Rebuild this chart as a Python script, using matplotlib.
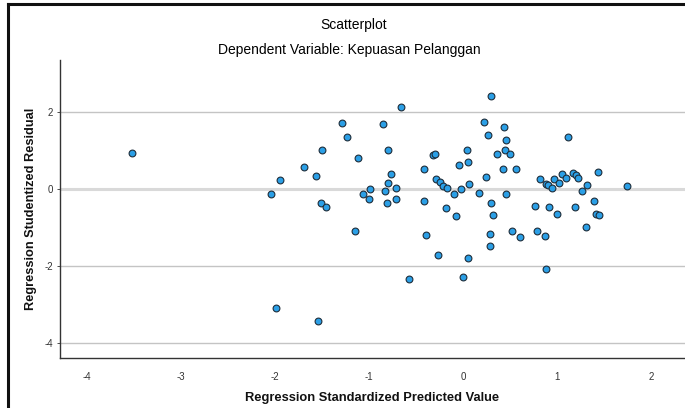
import matplotlib.pyplot as plt
from matplotlib.lines import Line2D

# DATA

predicted = [
    -3.52, -2.05, -1.95, -1.99, -1.69, -1.57, -1.50, -1.51, -1.46, -1.55,
    -1.29, -1.24, -1.12, -1.15, -1.07, -0.99, -1.00, -0.85, -0.80, -0.77,
    -0.80, -0.83, -0.72, -0.81, -0.72, -0.66, -0.58, -0.42, -0.42, -0.40,
    -0.27, -0.32, -0.30, -0.29, -0.25, -0.21, -0.17, -0.10, -0.18, -0.08,
    -0.04, -0.02, 0.04, 0.05, 0.06, 0.05, 0.00, 0.17, 0.22, 0.26,
    0.30, 0.24, 0.30, 0.32, 0.29, 0.29, 0.36, 0.43, 0.46, 0.45,
    0.50, 0.42, 0.56, 0.46, 0.52, 0.60, 0.76, 0.78, 0.87, 0.88,
    0.82, 0.88, 0.90, 0.95, 0.91, 0.97, 1.02, 1.00, 1.05, 1.09,
    1.12, 1.17, 1.20, 1.22, 1.19, 1.26, 1.32, 1.31, 1.39, 1.41,
    1.44, 1.43, 1.74
]

residual = [
    0.94, -0.12, 0.24, -3.10, 0.57, 0.33, 1.01, -0.37, -0.47, -3.43,
    1.72, 1.35, 0.81, -1.08, -0.13, 0.00, -0.27, 1.68, 1.00, 0.38,
    0.16, -0.04, 0.02, -0.37, -0.26, 2.13, -2.35, 0.52, -0.32, -1.19,
    -1.72, 0.88, 0.90, 0.27, 0.17, 0.09, 0.03, -0.12, -0.50, -0.71,
    0.61, 0.01, 1.00, 0.70, 0.13, -1.80, -2.28, -0.11, 1.73, 1.39,
    2.42, 0.32, -0.36, -0.68, -1.18, -1.49, 0.92, 1.60, 1.26, 1.00,
    0.90, 0.51, 0.51, -0.13, -1.09, -1.25, -0.43, -1.09, -1.21, -2.09,
    0.27, 0.14, 0.10, 0.02, -0.46, 0.26, 0.15, -0.65, 0.38, 0.29,
    1.34, 0.41, 0.35, 0.29, -0.48, -0.06, 0.11, -0.99, -0.31, -0.64,
    -0.68, 0.44, 0.09
]

x_ticks = [-4, -3, -2, -1, 0, 1, 2]
y_ticks = [-4, -2, 0, 2]

# FONT

plt.rcParams["font.family"] = ["Liberation Sans", "DejaVu Sans"]
plt.rcParams["axes.unicode_minus"] = False

# FIGURE

fig = plt.figure(figsize=(6.85, 4.08), dpi=100)

ax = fig.add_axes([0.0876, 0.1225, 0.9124, 0.7305])

# GRID LINES

for v in y_ticks:

    if v == 0:

        ax.axhline(v, color="#d9d9d9", linewidth=2.2, zorder=1)

    else:

        ax.axhline(v, color="#c4c4c4", linewidth=1.0, zorder=1)

# POINTS

ax.scatter(
    predicted,
    residual,
    s=24,
    color="#2b9fe6",
    edgecolors="#1e2d3a",
    linewidths=0.8,
    zorder=3
)

ax.set_xlim(-4.29, 2.36)
ax.set_ylim(-4.39, 3.35)

ax.set_xticks(x_ticks)
ax.set_yticks(y_ticks)

ax.tick_params(
    axis="both",
    labelsize=7,
    colors="#333333",
    length=2,
    width=0.6,
    pad=3
)

ax.tick_params(axis="x", length=0, pad=10)

for side in ["top", "right"]:

    ax.spines[side].set_visible(False)

for side in ["left", "bottom"]:

    ax.spines[side].set_color("#333333")
    ax.spines[side].set_linewidth(1.0)

# LABELS

ax.set_xlabel(
    "Regression Standardized Predicted Value",
    fontsize=9.3,
    fontweight="bold",
    color="#111111",
    labelpad=7
)

ax.set_ylabel(
    "Regression Studentized Residual",
    fontsize=9.2,
    fontweight="bold",
    color="#111111",
    labelpad=5
)

fig.text(
    0.516, 0.938,
    "Scatterplot",
    ha="center",
    va="center",
    fontsize=10
)

fig.text(
    0.51, 0.877,
    "Dependent Variable: Kepuasan Pelanggan",
    ha="center",
    va="center",
    fontsize=10
)

# OUTER FRAME

fig.add_artist(Line2D([0.011, 0.011], [0.0, 0.99], color="#111111", linewidth=2.2))
fig.add_artist(Line2D([0.011, 1.0], [0.99, 0.99], color="#111111", linewidth=2.2))

fig.savefig("out.png", dpi=100)
